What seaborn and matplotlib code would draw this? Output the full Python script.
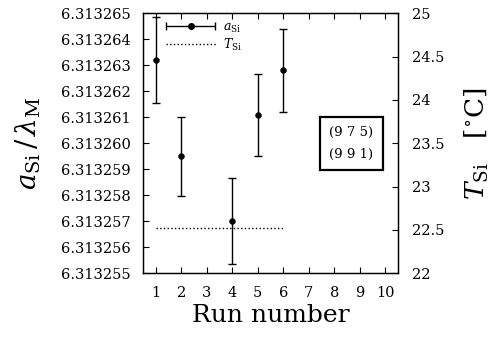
import numpy as np
import pandas as pd
import matplotlib
matplotlib.use("Agg")
import matplotlib.pyplot as plt
import seaborn as sns
from matplotlib.ticker import FormatStrFormatter, FixedLocator
from matplotlib.legend_handler import HandlerErrorbar

# ---- data ----
runs_a = [1, 2, 4, 5, 6]
a_si = [6.3132632, 6.3132595, 6.3132570, 6.3132611, 6.3132628]
a_err = [1.65e-6, 1.52e-6, 1.65e-6, 1.58e-6, 1.58e-6]
runs_t = [1, 2, 3, 4, 5, 6]
t_si = [22.52, 22.52, 22.52, 22.52, 22.52, 22.52]
x_ticks = [1, 2, 3, 4, 5, 6, 7, 8, 9, 10]
left_ticks = [6.313255, 6.313256, 6.313257, 6.313258, 6.313259, 6.313260,
              6.313261, 6.313262, 6.313263, 6.313264, 6.313265]
right_ticks = [22, 22.5, 23, 23.5, 24, 24.5, 25]
right_labels = ["22", "22.5", "23", "23.5", "24", "24.5", "25"]
box_text = "(9 7 5)\n(9 9 1)"

sns.set_style("ticks")
plt.rcParams["font.family"] = ["DejaVu Serif"]
plt.rcParams["mathtext.fontset"] = "dejavuserif"
for k in ("text.color", "axes.labelcolor", "xtick.color", "ytick.color", "axes.edgecolor"):
    plt.rcParams[k] = "black"

df_a = pd.DataFrame({"run": runs_a, "a": a_si, "err": a_err})
df_t = pd.DataFrame({"run": runs_t, "T": t_si})

fig = plt.figure(figsize=(4.94, 3.38), dpi=100)
ax = fig.add_axes([0.2895, 0.1914, 0.5162, 0.7693])
ax2 = ax.twinx()

ax.errorbar(df_a["run"], df_a["a"], yerr=df_a["err"], fmt="none", ecolor="black",
            capsize=3, elinewidth=1, capthick=1)
sns.scatterplot(data=df_a, x="run", y="a", ax=ax, color="black", s=18,
                edgecolor="black", zorder=5, legend=False)
# legend-only handle: horizontal error bar with dot
leg_a = ax.errorbar([np.nan], [np.nan], xerr=[1.0], fmt="o", color="black",
                    ms=4, capsize=3, elinewidth=1, capthick=1)
sns.lineplot(data=df_t, x="run", y="T", ax=ax2, color="black", linestyle=":",
             linewidth=1, label=r"$T_{\rm Si}$", legend=False)

ax.set_xlim(0.5, 10.5)
ax.set_ylim(6.313255, 6.313265)
ax2.set_ylim(22, 25)
ax.xaxis.set_major_locator(FixedLocator(x_ticks))
ax.yaxis.set_major_locator(FixedLocator(left_ticks))
ax.yaxis.set_major_formatter(FormatStrFormatter("%.6f"))
ax2.set_yticks(right_ticks)
ax2.set_yticklabels(right_labels)

ax.tick_params(axis="both", direction="in", length=4, width=0.8, labelsize=10.5,
               top=True, right=False, colors="black")
ax.tick_params(axis="y", pad=9)
ax.tick_params(axis="x", pad=9)
ax2.tick_params(axis="y", direction="in", length=4, width=0.8, labelsize=10.5, pad=10,
                colors="black")
for a_ in (ax, ax2):
    for sp in a_.spines.values():
        sp.set_visible(True)
        sp.set_linewidth(0.9)
        sp.set_color("black")

ax.set_xlabel("Run number", fontsize=18, labelpad=3, color="black")
ax.set_ylabel(r"$a_{\rm Si}\,/\,\lambda_{\rm M}$", fontsize=20, labelpad=13, color="black")
ax2.set_ylabel(r"$T_{\rm Si}$   [$^{\circ}$C]", fontsize=19, labelpad=13, color="black")
ax2.set_xlabel("")

h2, l2 = ax2.get_legend_handles_labels()
leg = ax2.legend([leg_a] + h2[:1], [r"$a_{\rm Si}$", r"$T_{\rm Si}$"], loc="upper left",
                 bbox_to_anchor=(0.06, 1.0), frameon=False, fontsize=9,
                 handlelength=4.0, handletextpad=0.6, labelspacing=0.15,
                 borderaxespad=0.2,
                 handler_map={leg_a: HandlerErrorbar(xerr_size=1.95, numpoints=1)})

ax2.text(0.816, 0.50, box_text, transform=ax2.transAxes, ha="center", va="center",
         fontsize=9.5, linespacing=1.85, color="black",
         bbox=dict(boxstyle="square,pad=0.72", facecolor="white", edgecolor="black",
                   linewidth=1.6))

fig.savefig("out.png", dpi=100)
